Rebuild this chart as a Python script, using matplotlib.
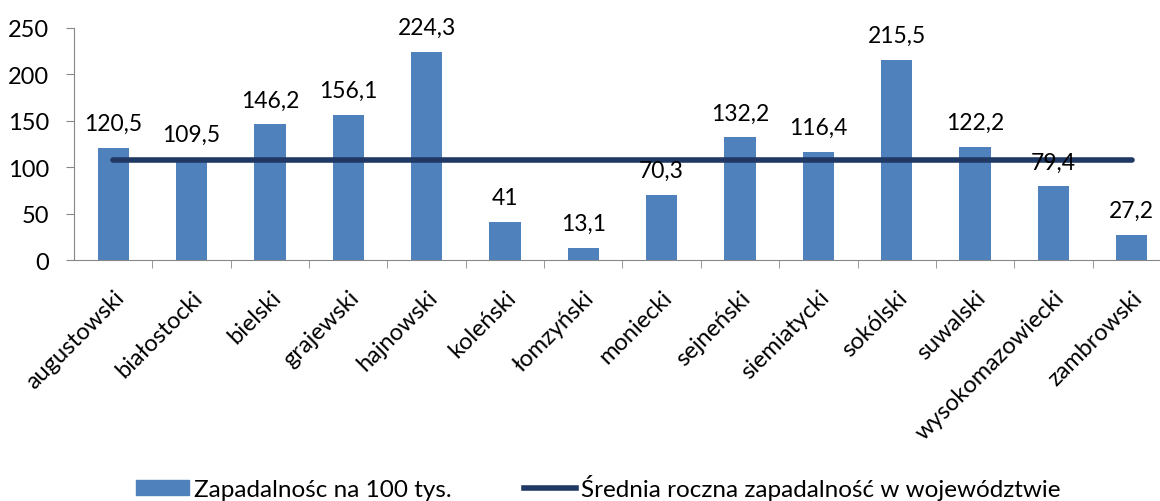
import matplotlib.pyplot as plt
from matplotlib.patches import Patch
from matplotlib.lines import Line2D

powiaty = ['augustowski', 'białostocki', 'bielski', 'grajewski', 'hajnowski',
           'koleński', 'łomzyński', 'moniecki', 'sejneński', 'siemiatycki',
           'sokólski', 'suwalski', 'wysokomazowiecki', 'zambrowski']
zapadalnosc = [120.5, 109.5, 146.2, 156.1, 224.3, 41, 13.1, 70.3, 132.2, 116.4,
               215.5, 122.2, 79.4, 27.2]
srednia = 108

plt.rcParams['font.family'] = ['Lato', 'DejaVu Sans']
plt.rcParams['font.size'] = 17

fig = plt.figure(figsize=(11.6, 5.02), dpi=100)
ax = fig.add_axes([74 / 1160, 1 - 261 / 502, (1171 - 74) / 1160, (261 - 29) / 502])

x = list(range(len(powiaty)))
ax.bar(x, zapadalnosc, width=0.4, color='#4f81bd', zorder=2)
ax.plot(x, [srednia] * len(x), color='#1f3864', lw=4, solid_capstyle='round', zorder=3)

for xi, v in zip(x, zapadalnosc):
    lab = ('%.1f' % v).replace('.', ',') if v != int(v) else str(int(v))
    ax.annotate(lab, (xi, v), xytext=(0, 10), textcoords='offset points',
                ha='center', va='bottom', fontsize=16.5)

ax.set_xlim(-0.5, len(x) - 0.5)
ax.set_ylim(0, 250)
ax.set_yticks(range(0, 251, 50))
ax.set_xticks([i + 0.5 for i in x[:-1]], minor=True)
ax.set_xticks(x)
ax.set_xticklabels(powiaty, rotation=45, ha='right', rotation_mode='anchor', fontsize=17)
ax.tick_params(axis='x', which='major', length=0, pad=19)
ax.tick_params(axis='x', which='minor', length=6, color='#878787')
ax.tick_params(axis='y', length=6, color='#878787', pad=12, labelsize=17)
for s in ['top', 'right']:
    ax.spines[s].set_visible(False)
ax.spines['left'].set_color('#878787')
ax.spines['bottom'].set_color('#878787')

handles = [Patch(color='#4f81bd', label='Zapadalnośc na 100 tys.'),
           Line2D([0], [0], color='#1f3864', lw=4, label='Średnia roczna zapadalność w województwie')]
fig.legend(handles=handles, loc='center', bbox_to_anchor=(0.516, 1 - 488 / 502), ncol=2,
           frameon=False, fontsize=17.5, handlelength=2.15, handleheight=0.6,
           handletextpad=0.2, columnspacing=3, borderpad=0)

fig.savefig('out.png', dpi=100)
